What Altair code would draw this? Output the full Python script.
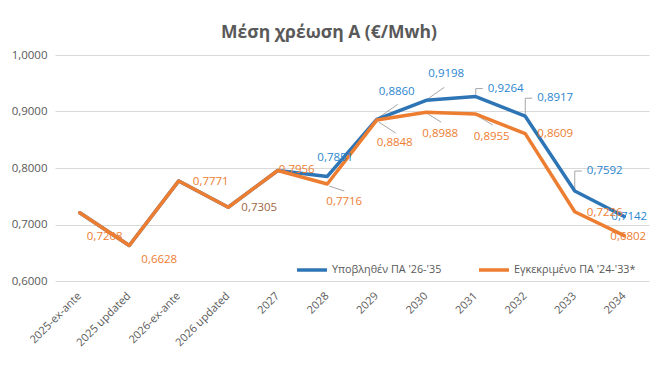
import altair as alt
import pandas as pd

categories = ["2025-ex-ante", "2025 updated", "2026-ex-ante", "2026 updated", "2027", "2028",
              "2029", "2030", "2031", "2032", "2033", "2034"]
submitted = [0.7208, 0.6628, 0.7771, 0.7305, 0.7956, 0.7851, 0.8860, 0.9198, 0.9264, 0.8917, 0.7592, 0.7142]
approved = [0.7208, 0.6628, 0.7771, 0.7305, 0.7956, 0.7716, 0.8848, 0.8988, 0.8955, 0.8609, 0.7226, 0.6802]
series_names = ["Υποβληθέν ΠΑ '26-'35", "Εγκεκριμένο ΠΑ '24-'33*"]

# label placement (pixel offsets from each point) - style only
approved_dx = [25, 30, 32, 31, 19, 17, 18, 14, 16, 30, 30, 4]
approved_dy = [24, 14, 1, 1, 0, 18, 23, 22, 23, 0, 1, 1]
approved_color = ["#ED7D31", "#ED7D31", "#ED7D31", "#A0653F", "#ED7D31", "#ED7D31",
                  "#ED7D31", "#ED7D31", "#ED7D31", "#ED7D31", "#ED7D31", "#ED7D31"]
submitted_show = [False, False, False, False, False, True, True, True, True, True, True, True]
submitted_dx = [0, 0, 0, 0, 0, 8, 20, 20, 30, 30, 30, 5]
submitted_dy = [0, 0, 0, 0, 0, -18, -27, -26, -8, -18, -20, 1]

# leader lines: (series index, category index, x1, y1, x2, y2) pixel offsets from the point
leaders = [
    (1, 5, 2, 2, 17, 7),
    (0, 6, 2, -2, 21, -15),
    (1, 6, 2, 2, 19, 13),
    (0, 7, 1, -1, 18, -13),
    (1, 7, 2, 2, 15, 10),
    (0, 8, 0, -2, 0, -8),
    (0, 8, 0, -8, 7, -8),
    (1, 8, 2, 2, 17, 11),
    (0, 9, 0, -2, 0, -18),
    (0, 9, 0, -18, 7, -18),
    (0, 10, 0, -2, 0, -20),
    (0, 10, 0, -20, 7, -20),
]

BLUE = "#2E75B6"
ORANGE = "#ED7D31"
GRAY = "#595959"
FONT = "Open Sans"


def fmt(v):
    return f"{v:.4f}".replace(".", ",")


rows = []
for i, c in enumerate(categories):
    rows.append({"category": c, "series": series_names[0], "value": submitted[i], "idx": i})
for i, c in enumerate(categories):
    rows.append({"category": c, "series": series_names[1], "value": approved[i], "idx": i})
lines_df = pd.DataFrame(rows)

x_enc = alt.X("category:N", sort=categories, title=None,
              axis=alt.Axis(labelAngle=-45, domain=False, ticks=False, grid=False,
                            labelPadding=13, labelFont=FONT, labelFontSize=11,
                            labelColor=GRAY))
y_enc = alt.Y("value:Q", title=None,
              scale=alt.Scale(domain=[0.6, 1.0], nice=False, zero=False),
              axis=alt.Axis(values=[0.6, 0.7, 0.8, 0.9, 1.0],
                            labelExpr="replace(format(datum.value, '.4f'), '.', ',')",
                            domain=False, ticks=False, grid=True, gridColor="#D9D9D9",
                            gridWidth=1, labelPadding=8, labelFont=FONT,
                            labelFontSize=11.5, labelColor=GRAY))

color_enc = alt.Color("series:N", scale=alt.Scale(domain=series_names, range=[BLUE, ORANGE]),
                      legend=alt.Legend(title=None, orient="none", legendX=240, legendY=198,
                                        direction="horizontal", symbolType="stroke",
                                        symbolSize=900, symbolStrokeWidth=3.5,
                                        labelFont=FONT, labelFontSize=10.8, labelColor=GRAY,
                                        columnPadding=30, labelOffset=3))

base = alt.Chart(lines_df)
blue_line = base.transform_filter(alt.datum.series == series_names[0]).mark_line(
    strokeWidth=3.5, strokeJoin="round", strokeCap="round"
).encode(x=x_enc, y=y_enc, color=color_enc, order="idx:Q")
orange_line = base.transform_filter(alt.datum.series == series_names[1]).mark_line(
    strokeWidth=3.5, strokeJoin="round", strokeCap="round"
).encode(x=x_enc, y=y_enc, color=color_enc, order="idx:Q")

layers = []

for s, i, x1, y1, x2, y2 in leaders:
    val = (submitted if s == 0 else approved)[i]
    df = pd.DataFrame([{"category": categories[i], "value": val}])
    layers.append(alt.Chart(df).mark_rule(
        color="#A6A6A6", strokeWidth=1, xOffset=x1, yOffset=y1, x2Offset=x2, y2Offset=y2
    ).encode(x=alt.X("category:N", sort=categories), x2="category:N",
             y="value:Q", y2="value:Q"))

layers += [blue_line, orange_line]


def label_layer(cat, val, dx, dy, color):
    df = pd.DataFrame([{"category": cat, "value": val, "label": fmt(val)}])
    return alt.Chart(df).mark_text(
        font=FONT, fontSize=11.5, color=color, align="center", baseline="middle", dx=dx, dy=dy
    ).encode(x=alt.X("category:N", sort=categories), y="value:Q", text="label:N")


for i, c in enumerate(categories):
    if submitted_show[i]:
        layers.append(label_layer(c, submitted[i], submitted_dx[i], submitted_dy[i], "#2B86CF"))
for i, c in enumerate(categories):
    layers.append(label_layer(c, approved[i], approved_dx[i], approved_dy[i], approved_color[i]))

chart = alt.layer(*layers).properties(
    width=594, height=226,
    title=alt.TitleParams("Μέση χρέωση Α (€/Mwh)", font=FONT, fontSize=17.5, fontWeight="bold",
                          color=GRAY, anchor="middle", dx=-23, offset=8),
    autosize=alt.AutoSizeParams(type="none"),
    padding={"left": 47, "top": 47, "right": 4, "bottom": 80},
).configure_view(stroke=None)

chart.save("out.html", embed_options={"renderer": "svg", "actions": False})
